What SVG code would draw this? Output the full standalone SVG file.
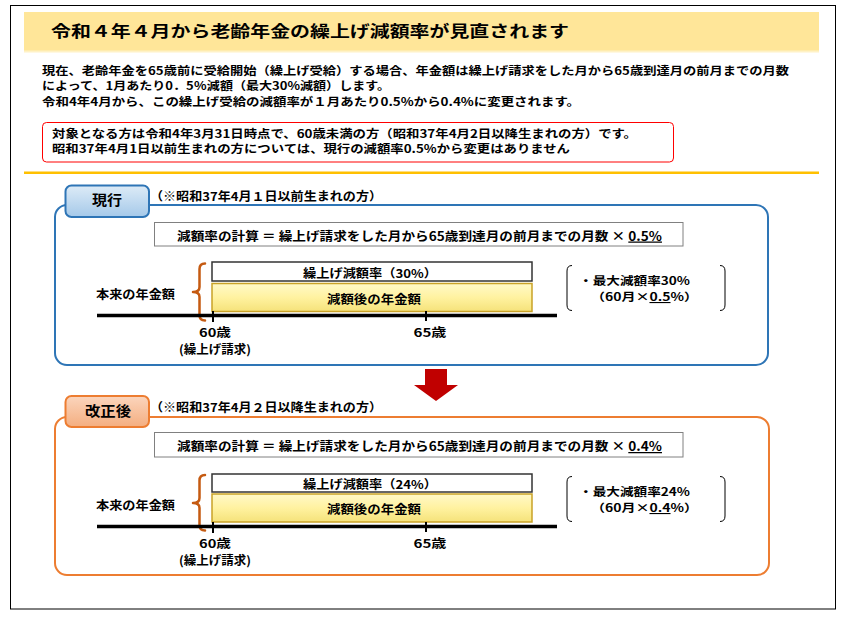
<svg xmlns="http://www.w3.org/2000/svg" width="842" height="617" viewBox="0 0 842 617">
<defs>
<style>
text{font-family:"Noto Sans CJK JP","Noto Sans CJK SC",sans-serif;font-weight:700;fill:#000;}
.b{font-size:11.5px;}
.r{font-size:11.5px;}
.m{font-size:12px;}
.n{font-size:11px;}
.f{font-size:12.5px;}
.tab{font-size:14px;}
.c{text-anchor:middle;}
.u{text-decoration:underline;}
.axis{stroke:#000;stroke-width:3.5;}
.tick{stroke:#000;stroke-width:2;}
.brace{fill:none;stroke:#C55A11;stroke-width:2.5;stroke-linecap:round;stroke-linejoin:round;}
.paren{fill:none;stroke:#000;stroke-width:1;}
.fbox{fill:#fff;stroke:#808080;stroke-width:1;}
.wbar{fill:#fff;stroke:#333;stroke-width:1.5;}
.ybar{fill:url(#yel);stroke:#C9A227;stroke-width:1.5;}
</style>
<linearGradient id="tabB" x1="0" y1="0" x2="0" y2="1">
<stop offset="0" stop-color="#DDEBF7"/><stop offset="1" stop-color="#A5C9E9"/>
</linearGradient>
<linearGradient id="tabO" x1="0" y1="0" x2="0" y2="1">
<stop offset="0" stop-color="#FBD5BD"/><stop offset="1" stop-color="#F4AE80"/>
</linearGradient>
<linearGradient id="yel" x1="0" y1="0" x2="0" y2="1">
<stop offset="0" stop-color="#FFF9C8"/><stop offset="0.5" stop-color="#FFF2A0"/><stop offset="1" stop-color="#F5E27A"/>
</linearGradient>
</defs>

<rect x="10.5" y="5.5" width="825" height="603.5" fill="#fff" stroke="#000" stroke-width="1"/>

<g id="header">
<rect x="24" y="12" width="795" height="40" fill="#FFE699"/>
<rect x="24" y="50.5" width="795" height="2" fill="#FFF2C6"/>
<text x="51" y="37" font-size="15.5" font-weight="900" textLength="518" lengthAdjust="spacingAndGlyphs">令和４年４月から老齢年金の繰上げ減額率が見直されます</text>
</g>

<g id="intro">
<text class="b" x="42" y="74.5" textLength="747" lengthAdjust="spacingAndGlyphs">現在、老齢年金を65歳前に受給開始（繰上げ受給）する場合、年金額は繰上げ請求をした月から65歳到達月の前月までの月数</text>
<text class="b" x="42" y="90" textLength="348" lengthAdjust="spacingAndGlyphs">によって、1月あたり0．5％減額（最大30%減額）します。</text>
<text class="b" x="42" y="105.5" font-weight="900" textLength="538" lengthAdjust="spacingAndGlyphs">令和4年4月から、この繰上げ受給の減額率が１月あたり0.5%から0.4%に変更されます。</text>
</g>

<g id="notice">
<rect x="42.5" y="122.5" width="631" height="39.5" rx="4" fill="#fff" stroke="#FF0000" stroke-width="1"/>
<text class="r" x="52" y="137.5" textLength="585" lengthAdjust="spacingAndGlyphs">対象となる方は令和4年3月31日時点で、60歳未満の方（昭和37年4月2日以降生まれの方）です。</text>
<text class="r" x="52" y="153" textLength="518" lengthAdjust="spacingAndGlyphs">昭和37年4月1日以前生まれの方については、現行の減額率0.5%から変更はありません</text>
</g>

<line x1="24" y1="172.7" x2="819" y2="172.7" stroke="#FFC000" stroke-width="2.5"/>

<g id="current">
<rect x="55" y="205" width="713" height="160" rx="12" fill="#fff" stroke="#2E75B6" stroke-width="2"/>
<rect x="65.5" y="185.5" width="83.5" height="31.5" rx="6" fill="url(#tabB)" stroke="#2E75B6" stroke-width="2"/>
<text class="tab c" x="107" y="205" textLength="30" lengthAdjust="spacingAndGlyphs">現行</text>
<text class="m" x="150" y="200.5" textLength="232" lengthAdjust="spacingAndGlyphs">（※昭和37年4月１日以前生まれの方）</text>
<rect class="fbox" x="154.5" y="222.5" width="528.5" height="23.5"/>
<text class="f" x="177" y="240.5" textLength="485" lengthAdjust="spacingAndGlyphs">減額率の計算 ＝ 繰上げ請求をした月から65歳到達月の前月までの月数 × <tspan class="u">0.5%</tspan></text>
<rect class="wbar" x="212" y="262" width="320" height="19"/>
<text class="m c" x="370" y="277.5" textLength="134" lengthAdjust="spacingAndGlyphs">繰上げ減額率（30%）</text>
<rect class="ybar" x="212" y="283.5" width="320" height="28"/>
<text class="m c" x="374" y="303.5" textLength="94" lengthAdjust="spacingAndGlyphs">減額後の年金額</text>
<text class="m" x="96" y="298.5" textLength="79" lengthAdjust="spacingAndGlyphs">本来の年金額</text>
<path class="brace" d="M205,263.5 Q199.5,263.5 199.5,269 L199.5,287 Q199.5,292 193,292 Q199.5,292 199.5,297 L199.5,315 Q199.5,320.5 205,320.5"/>
<line class="axis" x1="97" y1="315.5" x2="557" y2="315.5"/>
<line class="tick" x1="213" y1="311" x2="213" y2="322"/>
<line class="tick" x1="426" y1="311" x2="426" y2="321"/>
<text class="m c" x="215" y="337" textLength="32" lengthAdjust="spacingAndGlyphs">60歳</text>
<text class="m c" x="215" y="354" textLength="72" lengthAdjust="spacingAndGlyphs">(繰上げ請求)</text>
<text class="m c" x="430" y="337" textLength="33" lengthAdjust="spacingAndGlyphs">65歳</text>
<path class="paren" d="M572,265.5 Q567,265.5 567,271 L567,305 Q567,310.5 572,310.5"/>
<path class="paren" d="M720,265.5 Q725,265.5 725,271 L725,305 Q725,310.5 720,310.5"/>
<text class="n" x="579" y="284.5" textLength="111" lengthAdjust="spacingAndGlyphs">・最大減額率30%</text>
<text class="n" x="591" y="301" textLength="107" lengthAdjust="spacingAndGlyphs">（60月×<tspan class="u">0.5</tspan>%）</text>
</g>

<g id="arrow">
<polygon points="425,369 447,369 447,385 458,385 436,401 414,385 425,385" fill="#C00000"/>
</g>

<g id="revised">
<rect x="55" y="417" width="714" height="158" rx="12" fill="#fff" stroke="#ED7D31" stroke-width="2"/>
<rect x="65.5" y="396" width="83.5" height="31" rx="6" fill="url(#tabO)" stroke="#ED7D31" stroke-width="2"/>
<text class="tab c" x="108" y="416" textLength="46" lengthAdjust="spacingAndGlyphs">改正後</text>
<text class="m" x="150" y="412" textLength="232" lengthAdjust="spacingAndGlyphs">（※昭和37年4月２日以降生まれの方）</text>
<rect class="fbox" x="154.5" y="432.5" width="528.5" height="24.5"/>
<text class="f" x="177" y="451" textLength="485" lengthAdjust="spacingAndGlyphs">減額率の計算 ＝ 繰上げ請求をした月から65歳到達月の前月までの月数 × <tspan class="u">0.4%</tspan></text>
<rect class="wbar" x="212" y="474" width="320" height="18"/>
<text class="m c" x="370" y="488.5" textLength="134" lengthAdjust="spacingAndGlyphs">繰上げ減額率（24%）</text>
<rect class="ybar" x="212" y="494" width="320" height="28"/>
<text class="m c" x="374" y="514" textLength="94" lengthAdjust="spacingAndGlyphs">減額後の年金額</text>
<text class="m" x="96" y="509.5" textLength="79" lengthAdjust="spacingAndGlyphs">本来の年金額</text>
<path class="brace" d="M205,475 Q199.5,475 199.5,480.5 L199.5,498 Q199.5,503 193,503 Q199.5,503 199.5,508 L199.5,525 Q199.5,530.5 205,530.5"/>
<line class="axis" x1="97" y1="526.5" x2="557" y2="526.5"/>
<line class="tick" x1="213" y1="522" x2="213" y2="533"/>
<line class="tick" x1="426" y1="522" x2="426" y2="532"/>
<text class="m c" x="215" y="548" textLength="32" lengthAdjust="spacingAndGlyphs">60歳</text>
<text class="m c" x="215" y="565" textLength="72" lengthAdjust="spacingAndGlyphs">(繰上げ請求)</text>
<text class="m c" x="430" y="548" textLength="33" lengthAdjust="spacingAndGlyphs">65歳</text>
<path class="paren" d="M572,476.5 Q567,476.5 567,482 L567,516 Q567,521.5 572,521.5"/>
<path class="paren" d="M720,476.5 Q725,476.5 725,482 L725,516 Q725,521.5 720,521.5"/>
<text class="n" x="579" y="495.5" textLength="111" lengthAdjust="spacingAndGlyphs">・最大減額率24%</text>
<text class="n" x="591" y="512" textLength="107" lengthAdjust="spacingAndGlyphs">（60月×<tspan class="u">0.4</tspan>%）</text>
</g>
</svg>
